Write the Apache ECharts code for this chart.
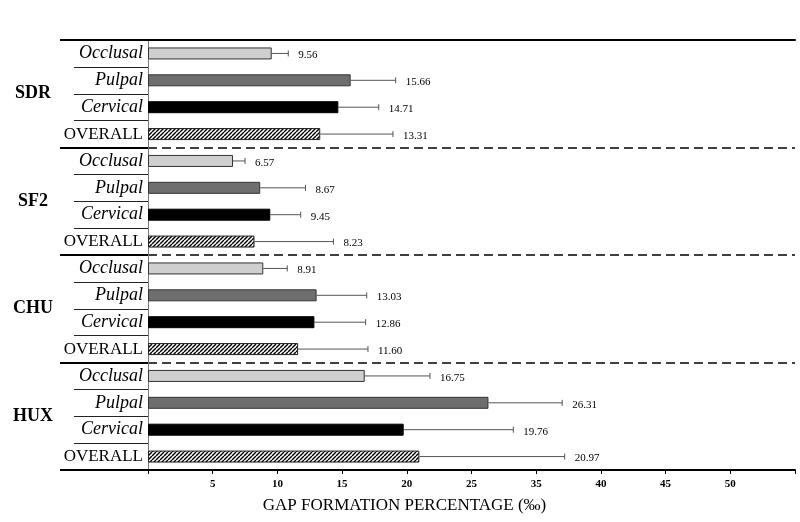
<!DOCTYPE html>
<html>
<head>
<meta charset="utf-8">
<title>Gap formation percentage</title>
<script src="https://cdn.jsdelivr.net/npm/echarts@6/dist/echarts.min.js"></script>
<style>
  html, body { margin: 0; padding: 0; background: #fff; }
  #chart { width: 800px; height: 522px; }
</style>
</head>
<body>
<div id="chart"></div>
<script>
// groups (top to bottom) and sites inside each group
const groups = ['SDR', 'SF2', 'CHU', 'HUX'];
const sites = ['Occlusal', 'Pulpal', 'Cervical', 'OVERALL'];

// mean values per site, one entry per group
const occlusalMean = [9.56, 6.57, 8.91, 16.75];
const pulpalMean = [15.66, 8.67, 13.03, 26.31];
const cervicalMean = [14.71, 9.45, 12.86, 19.76];
const overallMean = [13.31, 8.23, 11.60, 20.97];

// error bar lengths
const occlusalErr = [1.28, 0.93, 1.85, 5.04];
const pulpalErr = [3.48, 3.50, 3.87, 5.70];
const cervicalErr = [3.12, 2.35, 3.96, 8.47];
const overallErr = [5.62, 6.10, 5.40, 11.23];

// x tick labels as printed (0, 5, ... 50)
const tickLabels = ['', '5', '10', '15', '20', '25', '35', '40', '45', '50', ''];

const means = [occlusalMean, pulpalMean, cervicalMean, overallMean];
const errs = [occlusalErr, pulpalErr, cervicalErr, overallErr];

// hatch pattern for OVERALL
const hatch = document.createElement('canvas');
hatch.width = 4;
hatch.height = 4;
(function () {
  const ctx = hatch.getContext('2d');
  ctx.fillStyle = '#fff';
  ctx.fillRect(0, 0, 4, 4);
  ctx.strokeStyle = '#000';
  ctx.lineWidth = 1.4;
  for (let k = -1; k <= 1; k++) {
    ctx.beginPath();
    ctx.moveTo(k * 4, 4);
    ctx.lineTo(k * 4 + 4, 0);
    ctx.stroke();
  }
})();

const siteStyle = [
  { color: '#cfcfcf', borderColor: '#333', borderWidth: 1 },
  { color: '#6e6e6e', borderColor: '#333', borderWidth: 1 },
  { color: '#000', borderColor: '#000', borderWidth: 1 },
  { color: { image: hatch, repeat: 'repeat' }, borderColor: '#222', borderWidth: 1 }
];

const rowNames = [];
const barData = [];
const errData = [];
groups.forEach(function (g, gi) {
  sites.forEach(function (s, si) {
    const row = rowNames.length;
    rowNames.push(g + '|' + s);
    barData.push({ value: means[si][gi], itemStyle: siteStyle[si] });
    errData.push([means[si][gi], row, errs[si][gi]]);
  });
});

const serif = 'Liberation Serif';
const myChart = echarts.init(document.getElementById('chart'));
const option = {
  animation: false,
  grid: { left: 148, right: 5, top: 40, bottom: 52, containLabel: false },
  xAxis: [
    {
      type: 'value',
      z: 5,
      min: 0,
      max: 50,
      interval: 5,
      name: 'GAP FORMATION PERCENTAGE (‰)',
      nameLocation: 'middle',
      nameGap: 27,
      nameTextStyle: { fontFamily: serif, fontSize: 17, color: '#000', padding: [0, 134, 0, 0] },
      axisLine: { show: true, lineStyle: { color: '#000', width: 2 } },
      axisTick: { show: true, length: 4, lineStyle: { color: '#000' } },
      axisLabel: {
        margin: 9,
        fontFamily: serif,
        fontSize: 11,
        fontWeight: 'bold',
        color: '#000',
        formatter: function (v) { return tickLabels[Math.round(v / 5)] || ''; }
      },
      splitLine: { show: false }
    },
    {
      type: 'value',
      z: 5,
      position: 'top',
      min: 0,
      max: 50,
      axisLine: { show: true, lineStyle: { color: '#000', width: 2 } },
      axisTick: { show: false },
      axisLabel: { show: false },
      splitLine: { show: false }
    }
  ],
  yAxis: [
    {
      type: 'category',
      inverse: true,
      data: rowNames,
      axisLine: { show: true, lineStyle: { color: '#777', width: 1 } },
      axisTick: { show: true, length: 74, lineStyle: { color: '#222', width: 1 } },
      axisLabel: {
        margin: 5,
        formatter: function (v) {
          const s = v.split('|')[1];
          return s === 'OVERALL' ? '{n|' + s + '}' : '{i|' + s + '}';
        },
        rich: {
          i: { fontFamily: serif, fontStyle: 'italic', fontSize: 18, color: '#000' },
          n: { fontFamily: serif, fontSize: 17, color: '#000' }
        }
      }
    },
    {
      type: 'category',
      inverse: true,
      position: 'left',
      data: groups,
      axisLine: { show: false },
      axisTick: { show: true, length: 88, lineStyle: { color: '#000', width: 2 } },
      axisLabel: {
        margin: 115,
        align: 'center',
        fontFamily: serif,
        fontSize: 18,
        fontWeight: 'bold',
        color: '#000'
      },
      splitLine: { show: true, lineStyle: { color: '#000', width: 1.5, type: [9, 5] } }
    }
  ],
  series: [
    {
      name: 'mean',
      type: 'bar',
      xAxisIndex: 0,
      yAxisIndex: 0,
      barWidth: 12,
      data: barData
    },
    {
      name: 'error',
      type: 'custom',
      xAxisIndex: 0,
      yAxisIndex: 0,
      encode: { x: 0, y: 1 },
      data: errData,
      renderItem: function (params, api) {
        const mean = api.value(0);
        const row = api.value(1);
        const err = api.value(2);
        const a = api.coord([mean, row]);
        const b = api.coord([mean + err, row]);
        return {
          type: 'group',
          children: [
            { type: 'line', shape: { x1: a[0], y1: a[1], x2: b[0], y2: b[1] }, style: { stroke: '#555', lineWidth: 1 } },
            { type: 'line', shape: { x1: b[0], y1: b[1] - 3, x2: b[0], y2: b[1] + 3 }, style: { stroke: '#555', lineWidth: 1 } },
            {
              type: 'text',
              x: b[0] + 10,
              y: b[1] + 2,
              style: {
                text: mean.toFixed(2),
                fontFamily: serif,
                fontSize: 11,
                fill: '#000',
                verticalAlign: 'middle'
              }
            }
          ]
        };
      }
    }
  ]
};
myChart.setOption(option);
window.addEventListener('resize', function () { myChart.resize() })
</script>
</body>
</html>
